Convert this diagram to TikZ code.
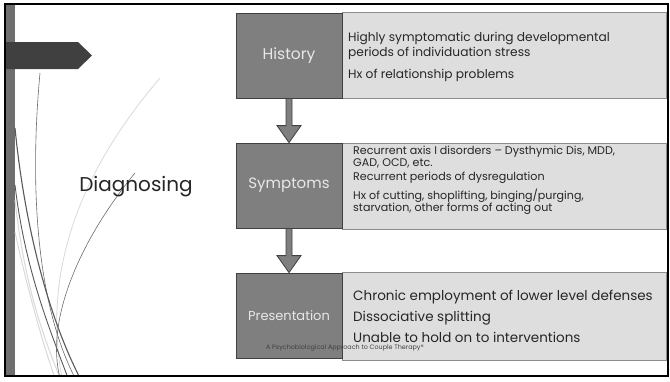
\documentclass[tikz,border=0pt]{standalone}
\usepackage{fontspec}
\setmainfont{Poppins}
\usetikzlibrary{calc}
\definecolor{boxdark}{HTML}{7F7F7F}
\definecolor{boxline}{HTML}{404040}
\definecolor{boxlight}{HTML}{DEDEDE}
\definecolor{lightline}{HTML}{8C8C8C}
\definecolor{textdark}{HTML}{262626}
\definecolor{labeltext}{HTML}{E8E8E8}
\definecolor{banner}{HTML}{404040}
\definecolor{sidebar}{HTML}{6E6E6E}
\tikzset{
  dbox/.style={draw=boxline, line width=0.8pt, fill=boxdark, text=labeltext, inner sep=0pt},
  lbox/.style={draw=lightline, line width=0.8pt, fill=boxlight, inner sep=0pt},
  txt/.style={text=textdark, align=left, inner sep=0pt},
  flowarrow/.style={draw=boxline, line width=0.8pt, fill=boxdark},
  wispdark/.style={draw=black!58, line width=0.6pt},
  wispmid/.style={draw=black!65, line width=1.1pt},
  wisplight/.style={draw=black!15, line width=1pt},
}
\begin{document}
\begin{tikzpicture}[x=1pt,y=-1pt]
\useasboundingbox (0,0) rectangle (670,381);
% side bar
\fill[sidebar] (6,3) rectangle (15,376);
% wisps
\begin{scope}
\clip (5,3) rectangle (668,376);
\draw[wisplight] (15,200) .. controls (25,290) and (45,340) .. (60,378);
\draw[wisplight] (15,232) .. controls (30,300) and (45,350) .. (55,378);
\draw[wisplight, line width=0.8pt] (160,78) .. controls (90,160) and (40,260) .. (62,378);
\draw[wispdark] (40,73) .. controls (30,180) and (35,300) .. (75,378);
\draw[wispmid] (15,128) .. controls (25,230) and (50,320) .. (80,378);
\draw[wispmid, line width=0.9pt] (15,185) .. controls (25,270) and (50,330) .. (68,378);
\draw[wispdark] (135,173) .. controls (80,240) and (45,320) .. (60,378);
\end{scope}
% banner
\fill[banner] (6,42) -- (78,42) -- (92,55.5) -- (78,69) -- (6,69) -- cycle;
% frame
\draw[black, line width=2pt] (5,3.5) rectangle (668,376);
% title
\node[text=textdark, font=\fontsize{20}{24}\selectfont, inner sep=0pt] (title) at (136,187) {Diagnosing};
% light boxes
\node[lbox, minimum width=324pt, minimum height=86pt] (histb) at (504,55) {};
\node[lbox, minimum width=324pt, minimum height=86pt] (symb) at (504,186) {};
\node[lbox, minimum width=324pt, minimum height=88pt] (presb) at (504,316) {};
% dark boxes
\node[dbox, minimum width=106pt, minimum height=85pt, font=\fontsize{15.5}{18}\selectfont] (hist) at (289,55.5) {History};
\node[dbox, minimum width=106pt, minimum height=85pt, font=\fontsize{15}{18}\selectfont] (sym) at (289,185.5) {Symptoms};
\node[dbox, minimum width=106pt, minimum height=85pt, font=\fontsize{13}{16}\selectfont] (pres) at (289,315.5) {Presentation};
% texts
\node[txt, anchor=west, font=\fontsize{12.2}{15}\selectfont] (histt) at (348,57) {Highly symptomatic during developmental\\periods of individuation stress\\[7pt]Hx of relationship problems};
\node[txt, anchor=west, font=\fontsize{11.1}{11.8}\selectfont] (symt) at (353,180) {Recurrent axis I disorders -- Dysthymic Dis, MDD,\\GAD, OCD, etc.\\[3pt]Recurrent periods of dysregulation\\[4pt]Hx of cutting, shoplifting, binging/purging,\\starvation, other forms of acting out};
\node[txt, anchor=west, font=\fontsize{13.5}{21}\selectfont] (prest) at (353,316) {Chronic employment of lower level defenses\\Dissociative splitting\\Unable to hold on to interventions};
% arrows
\coordinate (a1s) at (hist.south);
\coordinate (a1e) at (sym.north);
\draw[flowarrow] ($(a1s)+(-3,0)$) -- ($(a1e)+(-3,-17)$) -- ($(a1e)+(-12,-17)$) -- (a1e) -- ($(a1e)+(12,-17)$) -- ($(a1e)+(3,-17)$) -- ($(a1s)+(3,0)$) -- cycle;
\coordinate (a2s) at (sym.south);
\coordinate (a2e) at (pres.north);
\draw[flowarrow] ($(a2s)+(-3,0)$) -- ($(a2e)+(-3,-17)$) -- ($(a2e)+(-12,-17)$) -- (a2e) -- ($(a2e)+(12,-17)$) -- ($(a2e)+(3,-17)$) -- ($(a2s)+(3,0)$) -- cycle;
% footer
\node[text=boxline, font=\fontsize{6.4}{7}\selectfont, inner sep=0pt] (footer) at (345,348) {A Psychobiological Approach to Couple Therapy®};
\end{tikzpicture}
\end{document}
